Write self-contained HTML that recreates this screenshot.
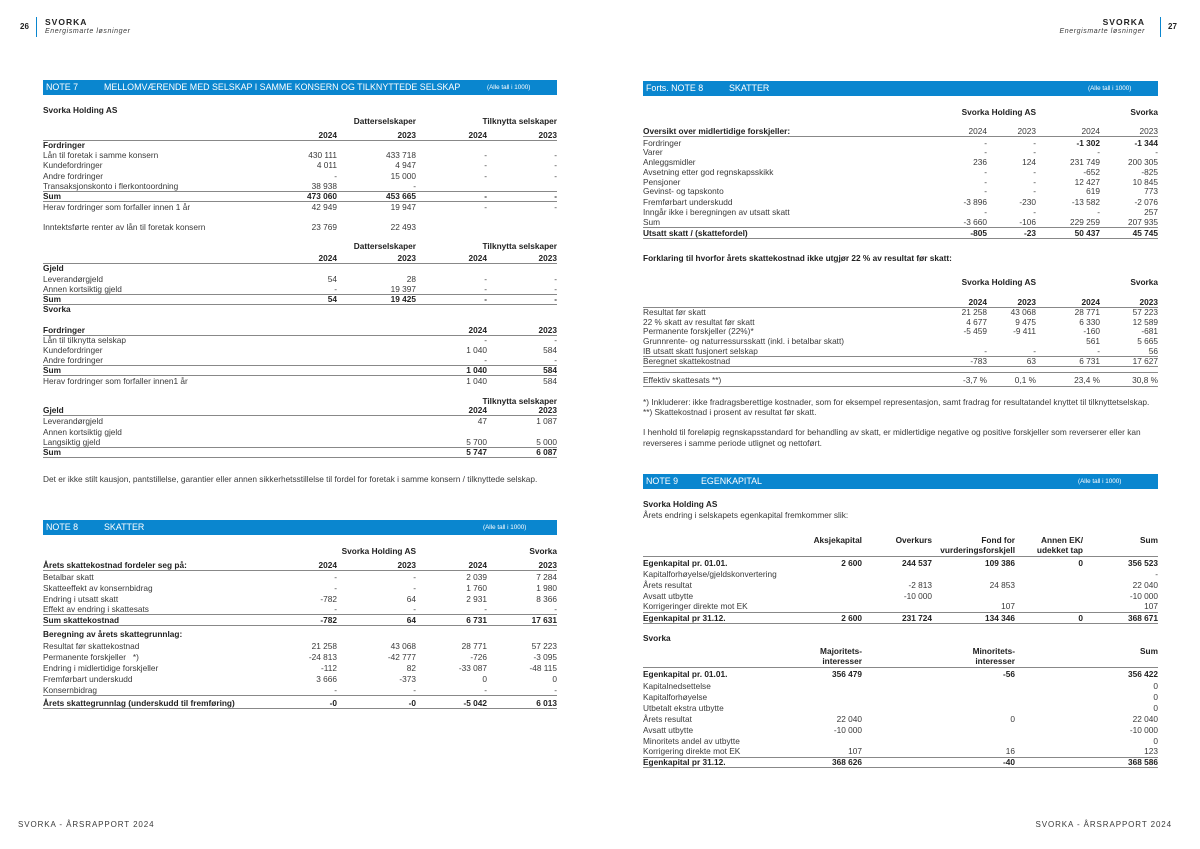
<!DOCTYPE html>
<html><head><meta charset="utf-8"><style>
body{margin:0;width:1200px;height:849px;background:#fff;position:relative;overflow:hidden;font-family:"Liberation Sans",sans-serif;color:#3a3a3a}
.t{position:absolute;white-space:nowrap}
.r{position:absolute;left:43px;width:514px;height:11px;line-height:11px;font-size:8.3px;white-space:nowrap}
.R{left:643px;width:515px}
.r i{position:absolute;font-style:normal;top:0}
.a{right:220px}.b{right:141px}.c{right:70px}.d{right:0}
.R .a{right:171px}.R .b{right:122px}.R .c{right:58px}
.E .a{right:296px}.E .b{right:226px}.E .c{right:143px}.E .d{right:75px}.E .e{right:0}
.k{font-weight:bold;color:#222}
.l{position:absolute;height:1px;background:#888}
.bar{position:absolute;height:15px;background:#0a86cf;color:#fff;font-size:8.9px;line-height:15px}
.bar span{position:absolute}
.bar .s{font-size:6.3px}
</style></head><body>
<div class="t k" style="left:20px;top:22px;font-size:8px">26</div>
<div class="l" style="left:36px;top:17px;width:1px;height:20px;background:#0a86cf"></div>
<div class="t k" style="left:45px;top:17px;font-size:8.5px;letter-spacing:1px">SVORKA</div>
<div class="t" style="left:45px;top:28px;font-size:7px;font-style:italic;letter-spacing:.6px">Energismarte løsninger</div>
<div class="t k" style="left:1168px;top:22px;font-size:8px">27</div>
<div class="l" style="left:1160px;top:17px;width:1px;height:20px;background:#0a86cf"></div>
<div class="t k" style="right:55px;top:17px;font-size:8.5px;letter-spacing:1px">SVORKA</div>
<div class="t" style="right:55px;top:28px;font-size:7px;font-style:italic;letter-spacing:.6px">Energismarte løsninger</div>
<div class="t" style="left:18px;top:820px;font-size:8px;letter-spacing:0.9px">SVORKA - ÅRSRAPPORT 2024</div>
<div class="t" style="right:28px;top:820px;font-size:8px;letter-spacing:0.9px">SVORKA - ÅRSRAPPORT 2024</div>

<div class="bar" style="left:43px;top:80px;width:514px"><span style="left:3px">NOTE 7</span><span style="left:61px">MELLOMVÆRENDE MED SELSKAP I SAMME KONSERN OG TILKNYTTEDE SELSKAP</span><span class="s" style="left:444px">(Alle tall i 1000)</span></div>
<div class="r k" style="top:105px">Svorka Holding AS</div>
<div class="r k" style="top:116px"><i class="b">Datterselskaper</i><i class="d">Tilknytta selskaper</i></div>
<div class="r k" style="top:130px"><i class="a">2024</i><i class="b">2023</i><i class="c">2024</i><i class="d">2023</i></div>
<div class="l" style="left:43px;width:514px;top:140px"></div>
<div class="r k" style="top:140px">Fordringer</div>
<div class="r" style="top:150px">Lån til foretak i samme konsern<i class="a">430 111</i><i class="b">433 718</i><i class="c">-</i><i class="d">-</i></div>
<div class="r" style="top:160px">Kundefordringer<i class="a">4 011</i><i class="b">4 947</i><i class="c">-</i><i class="d">-</i></div>
<div class="r" style="top:171px">Andre fordringer<i class="a">-</i><i class="b">15 000</i><i class="c">-</i><i class="d">-</i></div>
<div class="r" style="top:181px">Transaksjonskonto i flerkontoordning<i class="a">38 938</i><i class="b">-</i></div>
<div class="l" style="left:43px;width:514px;top:191px"></div>
<div class="r k" style="top:191px">Sum<i class="a">473 060</i><i class="b">453 665</i><i class="c">-</i><i class="d">-</i></div>
<div class="l" style="left:43px;width:514px;top:201px"></div>
<div class="r" style="top:202px">Herav fordringer som forfaller innen 1 år<i class="a">42 949</i><i class="b">19 947</i><i class="c">-</i><i class="d">-</i></div>
<div class="r" style="top:222px">Inntektsførte renter av lån til foretak konsern<i class="a">23 769</i><i class="b">22 493</i></div>
<div class="r k" style="top:241px"><i class="b">Datterselskaper</i><i class="d">Tilknytta selskaper</i></div>
<div class="r k" style="top:253px"><i class="a">2024</i><i class="b">2023</i><i class="c">2024</i><i class="d">2023</i></div>
<div class="l" style="left:43px;width:514px;top:263px"></div>
<div class="r k" style="top:263px">Gjeld</div>
<div class="r" style="top:274px">Leverandørgjeld<i class="a">54</i><i class="b">28</i><i class="c">-</i><i class="d">-</i></div>
<div class="r" style="top:284px">Annen kortsiktig gjeld<i class="a">-</i><i class="b">19 397</i><i class="c">-</i><i class="d">-</i></div>
<div class="l" style="left:43px;width:514px;top:294px"></div>
<div class="r k" style="top:294px">Sum<i class="a">54</i><i class="b">19 425</i><i class="c">-</i><i class="d">-</i></div>
<div class="l" style="left:43px;width:514px;top:304px"></div>
<div class="r k" style="top:304px">Svorka</div>
<div class="r k" style="top:325px">Fordringer<i class="c">2024</i><i class="d">2023</i></div>
<div class="l" style="left:43px;width:514px;top:335px"></div>
<div class="r" style="top:335px">Lån til tilknytta selskap<i class="c">-</i><i class="d">-</i></div>
<div class="r" style="top:345px">Kundefordringer<i class="c">1 040</i><i class="d">584</i></div>
<div class="r" style="top:355px">Andre fordringer<i class="c">-</i><i class="d">-</i></div>
<div class="l" style="left:43px;width:514px;top:365px"></div>
<div class="r k" style="top:365px">Sum<i class="c">1 040</i><i class="d">584</i></div>
<div class="l" style="left:43px;width:514px;top:375px"></div>
<div class="r" style="top:376px">Herav fordringer som forfaller innen1 år<i class="c">1 040</i><i class="d">584</i></div>
<div class="r k" style="top:396px"><i class="d">Tilknytta selskaper</i></div>
<div class="r k" style="top:405px">Gjeld<i class="c">2024</i><i class="d">2023</i></div>
<div class="l" style="left:43px;width:514px;top:415px"></div>
<div class="r" style="top:416px">Leverandørgjeld<i class="c">47</i><i class="d">1 087</i></div>
<div class="r" style="top:427px">Annen kortsiktig gjeld</div>
<div class="r" style="top:437px">Langsiktig gjeld<i class="c">5 700</i><i class="d">5 000</i></div>
<div class="l" style="left:43px;width:514px;top:447px"></div>
<div class="r k" style="top:447px">Sum<i class="c">5 747</i><i class="d">6 087</i></div>
<div class="l" style="left:43px;width:514px;top:457px"></div>
<div class="r" style="top:474px">Det er ikke stilt kausjon, pantstillelse, garantier eller annen sikkerhetsstillelse til fordel for foretak i samme konsern / tilknyttede selskap.</div>

<div class="bar" style="left:43px;top:520px;width:514px"><span style="left:3px">NOTE 8</span><span style="left:61px">SKATTER</span><span class="s" style="left:440px">(Alle tall i 1000)</span></div>
<div class="r k" style="top:546px"><i class="b">Svorka Holding AS</i><i class="d">Svorka</i></div>
<div class="r k" style="top:560px">Årets skattekostnad fordeler seg på:<i class="a">2024</i><i class="b">2023</i><i class="c">2024</i><i class="d">2023</i></div>
<div class="l" style="left:43px;width:514px;top:570px"></div>
<div class="r" style="top:572px">Betalbar skatt<i class="a">-</i><i class="b">-</i><i class="c">2 039</i><i class="d">7 284</i></div>
<div class="r" style="top:583px">Skatteeffekt av konsernbidrag<i class="a">-</i><i class="b">-</i><i class="c">1 760</i><i class="d">1 980</i></div>
<div class="r" style="top:594px">Endring i utsatt skatt<i class="a">-782</i><i class="b">64</i><i class="c">2 931</i><i class="d">8 366</i></div>
<div class="r" style="top:604px">Effekt av endring i skattesats<i class="a">-</i><i class="b">-</i><i class="c">-</i><i class="d">-</i></div>
<div class="l" style="left:43px;width:514px;top:614px"></div>
<div class="r k" style="top:615px">Sum skattekostnad<i class="a">-782</i><i class="b">64</i><i class="c">6 731</i><i class="d">17 631</i></div>
<div class="l" style="left:43px;width:514px;top:625px"></div>
<div class="r k" style="top:629px">Beregning av årets skattegrunnlag:</div>
<div class="r" style="top:641px">Resultat før skattekostnad<i class="a">21 258</i><i class="b">43 068</i><i class="c">28 771</i><i class="d">57 223</i></div>
<div class="r" style="top:652px">Permanente forskjeller &nbsp;&nbsp;*)<i class="a">-24 813</i><i class="b">-42 777</i><i class="c">-726</i><i class="d">-3 095</i></div>
<div class="r" style="top:663px">Endring i midlertidige forskjeller<i class="a">-112</i><i class="b">82</i><i class="c">-33 087</i><i class="d">-48 115</i></div>
<div class="r" style="top:674px">Fremførbart underskudd<i class="a">3 666</i><i class="b">-373</i><i class="c">0</i><i class="d">0</i></div>
<div class="r" style="top:685px">Konsernbidrag<i class="a">-</i><i class="b">-</i><i class="c">-</i><i class="d">-</i></div>
<div class="l" style="left:43px;width:514px;top:695px"></div>
<div class="r k" style="top:698px">Årets skattegrunnlag (underskudd til fremføring)<i class="a">-0</i><i class="b">-0</i><i class="c">-5 042</i><i class="d">6 013</i></div>
<div class="l" style="left:43px;width:514px;top:708px"></div>

<div class="bar" style="left:643px;top:81px;width:515px"><span style="left:3px">Forts. NOTE 8</span><span style="left:86px">SKATTER</span><span class="s" style="left:445px">(Alle tall i 1000)</span></div>
<div class="r R k" style="top:107px"><i class="b">Svorka Holding AS</i><i class="d">Svorka</i></div>
<div class="r R" style="top:126px"><b class="k">Oversikt over midlertidige forskjeller:</b><i class="a">2024</i><i class="b">2023</i><i class="c">2024</i><i class="d">2023</i></div>
<div class="l" style="left:643px;width:515px;top:136px"></div>
<div class="r R" style="top:138px">Fordringer<i class="a">-</i><i class="b">-</i><i class="c k">-1 302</i><i class="d k">-1 344</i></div>
<div class="r R" style="top:147px">Varer<i class="a">-</i><i class="b">-</i><i class="c">-</i><i class="d">-</i></div>
<div class="r R" style="top:157px">Anleggsmidler<i class="a">236</i><i class="b">124</i><i class="c">231 749</i><i class="d">200 305</i></div>
<div class="r R" style="top:167px">Avsetning etter god regnskapsskikk<i class="a">-</i><i class="b">-</i><i class="c">-652</i><i class="d">-825</i></div>
<div class="r R" style="top:177px">Pensjoner<i class="a">-</i><i class="b">-</i><i class="c">12 427</i><i class="d">10 845</i></div>
<div class="r R" style="top:186px">Gevinst- og tapskonto<i class="a">-</i><i class="b">-</i><i class="c">619</i><i class="d">773</i></div>
<div class="r R" style="top:197px">Fremførbart underskudd<i class="a">-3 896</i><i class="b">-230</i><i class="c">-13 582</i><i class="d">-2 076</i></div>
<div class="r R" style="top:207px">Inngår ikke i beregningen av utsatt skatt<i class="a">-</i><i class="b">-</i><i class="c">-</i><i class="d">257</i></div>
<div class="r R" style="top:217px">Sum<i class="a">-3 660</i><i class="b">-106</i><i class="c">229 259</i><i class="d">207 935</i></div>
<div class="l" style="left:643px;width:515px;top:227px"></div>
<div class="r R k" style="top:228px">Utsatt skatt / (skattefordel)<i class="a">-805</i><i class="b">-23</i><i class="c">50 437</i><i class="d">45 745</i></div>
<div class="l" style="left:643px;width:515px;top:238px"></div>
<div class="r R k" style="top:253px">Forklaring til hvorfor årets skattekostnad ikke utgjør 22 % av resultat før skatt:</div>
<div class="r R k" style="top:277px"><i class="b">Svorka Holding AS</i><i class="d">Svorka</i></div>
<div class="r R k" style="top:297px"><i class="a">2024</i><i class="b">2023</i><i class="c">2024</i><i class="d">2023</i></div>
<div class="l" style="left:643px;width:515px;top:307px"></div>
<div class="r R" style="top:307px">Resultat før skatt<i class="a">21 258</i><i class="b">43 068</i><i class="c">28 771</i><i class="d">57 223</i></div>
<div class="r R" style="top:317px">22 % skatt av resultat før skatt<i class="a">4 677</i><i class="b">9 475</i><i class="c">6 330</i><i class="d">12 589</i></div>
<div class="r R" style="top:326px">Permanente forskjeller (22%)*<i class="a">-5 459</i><i class="b">-9 411</i><i class="c">-160</i><i class="d">-681</i></div>
<div class="r R" style="top:336px">Grunnrente- og naturressursskatt (inkl. i betalbar skatt)<i class="c">561</i><i class="d">5 665</i></div>
<div class="r R" style="top:346px">IB utsatt skatt fusjonert selskap<i class="a">-</i><i class="b">-</i><i class="c">-</i><i class="d">56</i></div>
<div class="l" style="left:643px;width:515px;top:356px"></div>
<div class="r R" style="top:356px">Beregnet skattekostnad<i class="a">-783</i><i class="b">63</i><i class="c">6 731</i><i class="d">17 627</i></div>
<div class="l" style="left:643px;width:515px;top:366px"></div>
<div class="l" style="left:643px;width:515px;top:372px"></div>
<div class="r R" style="top:375px">Effektiv skattesats **)<i class="a">-3,7 %</i><i class="b">0,1 %</i><i class="c">23,4 %</i><i class="d">30,8 %</i></div>
<div class="l" style="left:643px;width:515px;top:386px"></div>
<div class="r R" style="top:397px">*) Inkluderer: ikke fradragsberettige kostnader, som for eksempel representasjon, samt fradrag for resultatandel knyttet til tilknyttetselskap.</div>
<div class="r R" style="top:407px">**) Skattekostnad i prosent av resultat før skatt.</div>
<div class="r R" style="top:427px">I henhold til foreløpig regnskapsstandard for behandling av skatt, er midlertidige negative og positive forskjeller som reverserer eller kan</div>
<div class="r R" style="top:438px">reverseres i samme periode utlignet og nettoført.</div>

<div class="bar" style="left:643px;top:474px;width:515px"><span style="left:3px">NOTE 9</span><span style="left:58px">EGENKAPITAL</span><span class="s" style="left:435px">(Alle tall i 1000)</span></div>
<div class="r R k" style="top:499px">Svorka Holding AS</div>
<div class="r R" style="top:510px">Årets endring i selskapets egenkapital fremkommer slik:</div>
<div class="r R E k" style="top:535px"><i class="a">Aksjekapital</i><i class="b">Overkurs</i><i class="c">Fond for</i><i class="d">Annen EK/</i><i class="e">Sum</i></div>
<div class="r R E k" style="top:545px"><i class="c">vurderingsforskjell</i><i class="d">udekket tap</i></div>
<div class="l" style="left:643px;width:515px;top:556px"></div>
<div class="r R E k" style="top:558px">Egenkapital pr. 01.01.<i class="a">2 600</i><i class="b">244 537</i><i class="c">109 386</i><i class="d">0</i><i class="e">356 523</i></div>
<div class="r R E" style="top:569px">Kapitalforhøyelse/gjeldskonvertering<i class="e">-</i></div>
<div class="r R E" style="top:580px">Årets resultat<i class="b">-2 813</i><i class="c">24 853</i><i class="e">22 040</i></div>
<div class="r R E" style="top:591px">Avsatt utbytte<i class="b">-10 000</i><i class="e">-10 000</i></div>
<div class="r R E" style="top:601px">Korrigeringer direkte mot EK<i class="c">107</i><i class="e">107</i></div>
<div class="l" style="left:643px;width:515px;top:612px"></div>
<div class="r R E k" style="top:613px">Egenkapital pr 31.12.<i class="a">2 600</i><i class="b">231 724</i><i class="c">134 346</i><i class="d">0</i><i class="e">368 671</i></div>
<div class="l" style="left:643px;width:515px;top:623px"></div>
<div class="r R k" style="top:633px">Svorka</div>
<div class="r R E k" style="top:646px"><i class="a">Majoritets-</i><i class="c">Minoritets-</i><i class="e">Sum</i></div>
<div class="r R E k" style="top:656px"><i class="a">interesser</i><i class="c">interesser</i></div>
<div class="l" style="left:643px;width:515px;top:667px"></div>
<div class="r R E k" style="top:669px">Egenkapital pr. 01.01.<i class="a">356 479</i><i class="c">-56</i><i class="e">356 422</i></div>
<div class="r R E" style="top:681px">Kapitalnedsettelse<i class="e">0</i></div>
<div class="r R E" style="top:692px">Kapitalforhøyelse<i class="e">0</i></div>
<div class="r R E" style="top:703px">Utbetalt ekstra utbytte<i class="e">0</i></div>
<div class="r R E" style="top:714px">Årets resultat<i class="a">22 040</i><i class="c">0</i><i class="e">22 040</i></div>
<div class="r R E" style="top:725px">Avsatt utbytte<i class="a">-10 000</i><i class="e">-10 000</i></div>
<div class="r R E" style="top:736px">Minoritets andel av utbytte<i class="e">0</i></div>
<div class="r R E" style="top:746px">Korrigering direkte mot EK<i class="a">107</i><i class="c">16</i><i class="e">123</i></div>
<div class="l" style="left:643px;width:515px;top:757px"></div>
<div class="r R E k" style="top:757px">Egenkapital pr 31.12.<i class="a">368 626</i><i class="c">-40</i><i class="e">368 586</i></div>
<div class="l" style="left:643px;width:515px;top:767px"></div>
</body></html>
